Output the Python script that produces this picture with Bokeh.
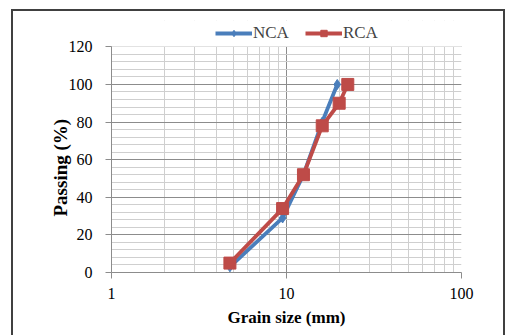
from bokeh.plotting import figure
from bokeh.models import (Legend, LegendItem, FixedTicker, Range1d, InlineStyleSheet,
                          BoxAnnotation, Title)
from bokeh.embed import file_html
from bokeh.resources import INLINE

# Data
nca_size = [4.75, 9.5, 12.5, 16, 19.5]
nca_pass = [3, 29, 52, 80, 100]
rca_size = [4.75, 9.5, 12.5, 16, 20, 22.4]
rca_pass = [5, 34, 52, 78, 90, 100]
x_ticks = [1, 10, 100]
y_ticks = [0, 20, 40, 60, 80, 100, 120]
Y_AXIS_MAX = 120
Y_VIEW_MAX = 134  # extra headroom above the axis for the legend

BLUE = "#4A7EBB"
RED = "#BE4B48"
FONT = "Liberation Serif"

p = figure(width=506, height=335, x_axis_type="log",
           x_range=Range1d(1, 100), y_range=Range1d(0, Y_VIEW_MAX),
           output_backend="svg", toolbar_location=None,
           min_border_left=111, min_border_right=45,
           min_border_top=20, min_border_bottom=63)
p.stylesheets = [InlineStyleSheet(css="""
:host { position: relative; }
:host::after { content: ""; position: absolute; left: 11px; top: 9px;
  width: 490px; height: 400px; border: 2px solid #404040;
  pointer-events: none; z-index: 10; }
""")]
p.outline_line_color = None
p.background_fill_color = "white"
p.border_fill_color = "white"

p.yaxis.ticker = FixedTicker(ticks=y_ticks, minor_ticks=list(range(0, Y_AXIS_MAX + 1, 4)))
p.xaxis.ticker = FixedTicker(ticks=x_ticks, minor_ticks=[m * d for d in (1, 10) for m in range(2, 10)])
p.ygrid.ticker = p.yaxis.ticker
p.xgrid.ticker = p.xaxis.ticker
for g in (p.xgrid, p.ygrid):
    g.grid_line_color = "#8c8c8c"
    g.minor_grid_line_color = "#cfcfcf"
    g.level = "image"

# mask the grid above the top of the value axis (legend area)
p.add_layout(BoxAnnotation(bottom=Y_AXIS_MAX, fill_color="white", fill_alpha=1,
                           line_color=None, level="underlay"))

p.yaxis.bounds = (0, Y_AXIS_MAX)
for ax in (p.xaxis, p.yaxis):
    ax.axis_line_color = "#8c8c8c"
    ax.major_tick_line_color = "#8c8c8c"
    ax.major_tick_out = 6
    ax.major_tick_in = 0
    ax.minor_tick_line_color = None
    ax.major_label_text_font = FONT
    ax.major_label_text_font_size = "16px"
    ax.major_label_text_color = "#000000"
    ax.axis_label_text_font = FONT
    ax.axis_label_text_font_style = "bold"
    ax.axis_label_text_font_size = "17px"
    ax.axis_label_text_color = "#000000"

p.xaxis.major_label_standoff = 9
p.yaxis.major_label_standoff = 13
p.xaxis.axis_label = "Grain size (mm)"
p.xaxis.axis_label_standoff = 6
p.xaxis.major_label_overrides = {1: "1", 10: "10", 100: "100"}

# y-axis title, centred on the 0-120 axis rather than on the whole frame
ytitle = Title(text="Passing (%)", align="left", vertical_align="bottom",
               offset=56, standoff=-10, text_font=FONT, text_font_style="bold",
               text_font_size="19px", text_color="#000000")
p.add_layout(ytitle, "left")

l1 = p.line(nca_size, nca_pass, line_color=BLUE, line_width=3.8)
s1 = p.scatter(nca_size, nca_pass, marker="diamond", size=10, fill_color=BLUE, line_color=BLUE)
l2 = p.line(rca_size, rca_pass, line_color=RED, line_width=3.8)
s2 = p.scatter(rca_size, rca_pass, marker="square", size=12, fill_color=RED, line_color=RED)

legend = Legend(items=[LegendItem(label="NCA", renderers=[l1, s1]),
                       LegendItem(label="RCA", renderers=[l2, s2])],
                orientation="horizontal", location=(104, 229),
                glyph_width=37, glyph_height=16, label_height=16,
                label_standoff=1, spacing=16, padding=0, margin=0,
                label_text_font=FONT, label_text_font_size="17px",
                border_line_color=None, background_fill_alpha=0)
p.add_layout(legend, "center")

open("out.html", "w").write(file_html(p, INLINE))
